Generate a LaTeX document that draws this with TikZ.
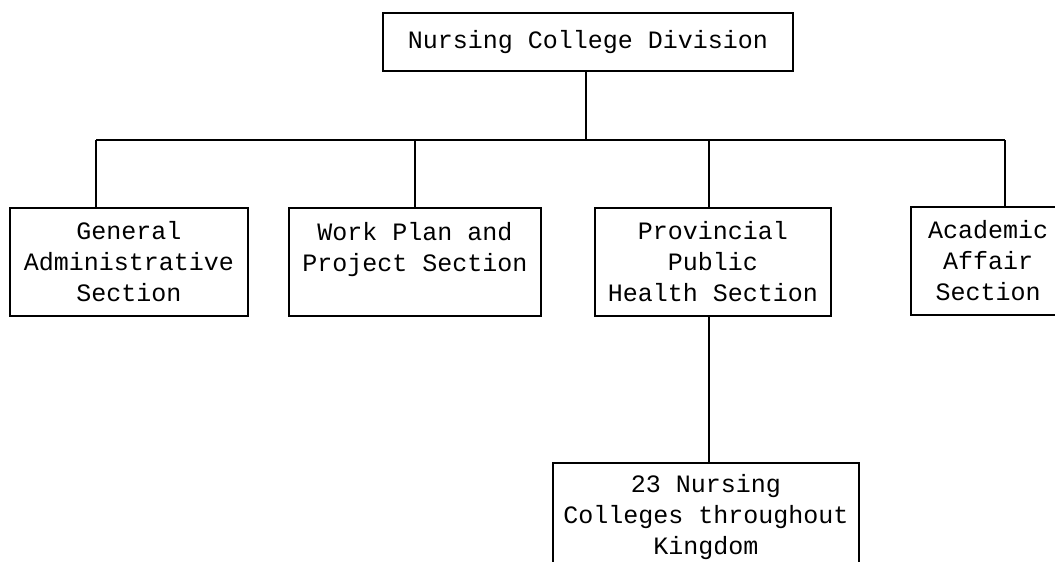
\documentclass[tikz,border=0pt]{standalone}
\usepackage{fontspec}
\setmonofont{Liberation Mono}

\begin{document}
\begin{tikzpicture}[x=1pt,y=-1pt,line width=1.1pt,
  box/.style={draw,inner sep=0pt,align=center,minimum height=108pt,
    font=\ttfamily\fontsize{25}{31}\selectfont}]
  \clip (0,0) rectangle (1055,562);
  \node[box,minimum width=410pt,minimum height=58pt] (div) at (588,42) {Nursing College Division};
  \node[box,minimum width=238pt] (gen)  at (129,262) {General\\Administrative\\Section};
  \node[box,minimum width=252pt] (plan) at (415,262) {Work Plan and\\Project Section\\\mbox{}};
  \node[box,minimum width=236pt] (prov) at (713,262) {Provincial\\Public\\Health Section};
  \node[box,minimum width=154pt] (acad) at (988,261) {Academic\\Affair\\Section};
  \node[box,minimum width=306pt] (coll) at (706,517) {23 Nursing\\Colleges throughout\\Kingdom};
  \coordinate (b0) at (586,140);
  \coordinate (b1) at (96,140);
  \coordinate (b2) at (415,140);
  \coordinate (b3) at (709,140);
  \coordinate (b4) at (1005,140);
  \draw (div.south -| b0) -- (b0);
  \draw (b1) -- (b4);
  \draw (b1) -- (b1 |- gen.north);
  \draw (b2) -- (plan.north);
  \draw (b3) -- (b3 |- prov.north);
  \draw (b4) -- (b4 |- acad.north);
  \draw (b3 |- prov.south) -- (b3 |- coll.north);
\end{tikzpicture}
\end{document}
